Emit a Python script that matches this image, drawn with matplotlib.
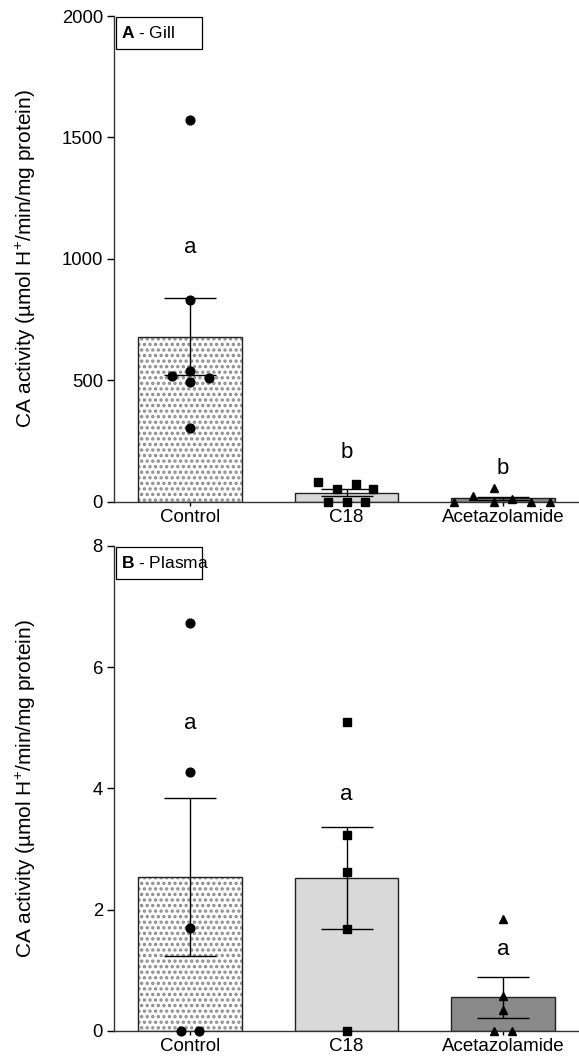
import numpy as np
import matplotlib
matplotlib.use("Agg")
import matplotlib.pyplot as plt
from matplotlib.patches import Rectangle

plt.rcParams["font.family"] = ["Liberation Sans", "DejaVu Sans"]
plt.rcParams["mathtext.fontset"] = "custom"
plt.rcParams["mathtext.rm"] = "Liberation Sans"
plt.rcParams["mathtext.bf"] = "Liberation Sans:bold"
plt.rcParams["hatch.linewidth"] = 1.6

groups = ["Control", "C18", "Acetazolamide"]

# individual fish values
gill_control = [1570, 830, 537, 519, 510, 492, 303]
gill_c18 = [82, 51, 72, 52, 0, 0, 0]
gill_acet = [0, 25, 57, 0, 11, 0, 0]
gill_letters = ["a", "b", "b"]
gill_letter_y = [1045, 202, 136]

plasma_control = [6.72, 4.27, 1.70, 0, 0]
plasma_c18 = [5.09, 3.23, 2.62, 1.68, 0]
plasma_acet = [1.85, 0.58, 0.35, 0, 0]
plasma_letters = ["a", "a", "a"]
plasma_letter_y = [5.07, 3.9, 1.35]

# horizontal scatter offsets (category units), as placed in the original
gill_offsets = [
    [0, 0, 0, -0.118, 0.12, 0, 0],
    [-0.18, -0.06, 0.06, 0.17, -0.12, 0, 0.12],
    [-0.31, -0.19, -0.06, -0.06, 0.06, 0.18, 0.30],
]
plasma_offsets = [
    [0, 0, 0, -0.058, 0.058],
    [0, 0, 0, 0, 0],
    [0, 0, 0, -0.06, 0.06],
]

markers = ["o", "s", "^"]
marker_sizes = [6.3, 5.8, 6.3]
bar_colors = ["white", "#d9d9d9", "#8a8a8a"]


def sem(v):
    v = np.asarray(v, dtype=float)
    return v.std(ddof=1) / np.sqrt(len(v))


def draw_panel(ax, data, offsets, letters, letter_y, ymax, yticks, tag, name):
    x = np.arange(len(data))
    means = [np.mean(d) for d in data]
    errs = [sem(d) for d in data]

    # control bar is stippled, others plain grey
    ax.bar(x[0], means[0], 0.66, color="white", edgecolor="#8a8a8a",
           hatch="...", lw=0, zorder=1)
    ax.bar(x[1:], means[1:], 0.66, color=bar_colors[1:], lw=0, zorder=1)
    ax.bar(x, means, 0.66, fill=False, edgecolor="#222222", lw=1.0, zorder=2)

    ax.errorbar(x, means, yerr=errs, fmt="none", ecolor="black",
                elinewidth=1.0, capsize=18.5, capthick=1.0, zorder=3)

    for i, d in enumerate(data):
        ax.plot(x[i] + np.array(offsets[i]), d, ls="none", marker=markers[i],
                ms=marker_sizes[i], color="black", zorder=4, clip_on=False)
        ax.text(x[i], letter_y[i], letters[i], ha="center", va="center",
                fontsize=16)

    ax.set_xlim(-0.486, 2.486)
    ax.set_ylim(0, ymax)
    ax.set_yticks(yticks)
    ax.set_xticks(x)
    ax.set_xticklabels(groups)
    ax.tick_params(axis="y", length=5, width=1, pad=3, labelsize=13.3)
    ax.tick_params(axis="x", length=3, width=1, pad=2, labelsize=13.5)
    for s in ["top", "right"]:
        ax.spines[s].set_visible(False)
    for s in ["left", "bottom"]:
        ax.spines[s].set_linewidth(1.0)
        ax.spines[s].set_color("#333333")

    ax.set_ylabel("CA activity (µmol H$^{+}$/min/mg protein)", fontsize=15)
    ax.yaxis.set_label_coords(-0.163, 0.5)

    # panel tag box in the top left corner
    ax.add_patch(Rectangle((0.004, 1 - 0.068), 0.186, 0.066,
                           transform=ax.transAxes, fc="white", ec="black",
                           lw=0.9, zorder=5, clip_on=False))
    ax.text(0.016, 1 - 0.035, r"$\mathbf{" + tag + "}$ - " + name,
            transform=ax.transAxes, ha="left", va="center", fontsize=12.5,
            zorder=6)


fig = plt.figure(figsize=(5.79, 10.6), dpi=100)
ax1 = fig.add_axes([0.1969, 0.5267, 0.8031, 0.4582])
ax2 = fig.add_axes([0.1969, 0.0274, 0.8031, 0.4578])

draw_panel(ax1, [gill_control, gill_c18, gill_acet], gill_offsets,
           gill_letters, gill_letter_y, 2000, [0, 500, 1000, 1500, 2000],
           "A", "Gill")
draw_panel(ax2, [plasma_control, plasma_c18, plasma_acet], plasma_offsets,
           plasma_letters, plasma_letter_y, 8, [0, 2, 4, 6, 8],
           "B", "Plasma")

fig.savefig("out.png", dpi=100)
